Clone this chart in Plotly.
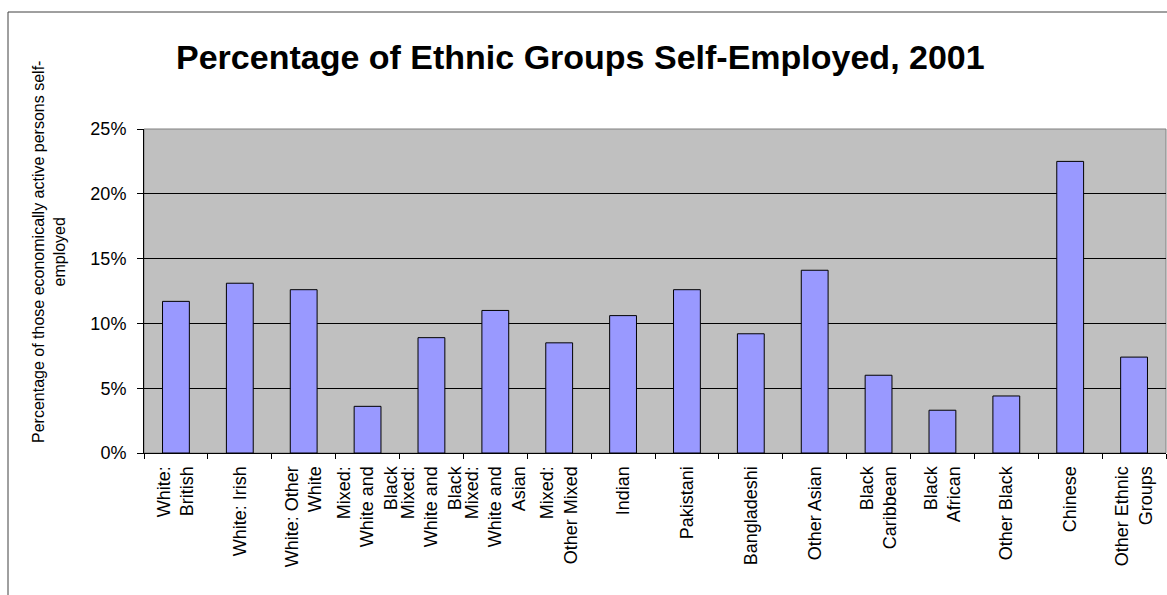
import plotly.graph_objects as go

categories = [
    "White: British", "White: Irish", "White: Other White",
    "Mixed: White and Black Caribbean", "Mixed: White and Black African",
    "Mixed: White and Asian", "Mixed: Other Mixed", "Indian", "Pakistani",
    "Bangladeshi", "Other Asian", "Black Caribbean", "Black African",
    "Other Black", "Chinese", "Other Ethnic Groups",
]
tick_labels = [
    "White:<br>British", "White: Irish", "White: Other<br>White",
    "Mixed:<br>White and<br>Black", "Mixed:<br>White and<br>Black",
    "Mixed:<br>White and<br>Asian", "Mixed:<br>Other Mixed", "Indian", "Pakistani",
    "Bangladeshi", "Other Asian", "Black<br>Caribbean", "Black<br>African",
    "Other Black", "Chinese", "Other Ethnic<br>Groups",
]
self_employed_pct = [11.7, 13.1, 12.6, 3.6, 8.9, 11.0, 8.5, 10.6, 12.6,
                     9.2, 14.1, 6.0, 3.3, 4.4, 22.5, 7.4]
y_ticks = [0, 5, 10, 15, 20, 25]
y_tick_labels = ["0%", "5%", "10%", "15%", "20%", "25%"]

FONT = "Liberation Sans, Arial, sans-serif"

fig = go.Figure(go.Bar(
    x=categories, y=self_employed_pct, width=0.42,
    marker=dict(color="#9999FF", line=dict(color="black", width=1)),
))

L, R, T, B = 144, 1, 129, 142
W, H = 1167, 595
pw = W - L - R
ph = H - T - B

fig.update_layout(
    width=W, height=H,
    margin=dict(l=L, r=R, t=T, b=B),
    paper_bgcolor="white", plot_bgcolor="#C0C0C0",
    font=dict(family=FONT, color="black", size=18),
    showlegend=False,
)
fig.update_xaxes(
    tickvals=categories, ticktext=tick_labels, tickangle=-90,
    ticks="outside", tickson="boundaries", ticklen=5, tickcolor="black",
    ticklabelstandoff=5,
    showline=True, linecolor="black", linewidth=1, showgrid=False,
    tickfont=dict(size=18, family=FONT, color="black"),
)
fig.update_yaxes(
    range=[0, 25], tickvals=y_ticks, ticktext=y_tick_labels,
    ticks="outside", ticklen=6, tickcolor="black",
    ticklabelstandoff=7,
    showline=True, linecolor="black", linewidth=1,
    showgrid=True, gridcolor="black", gridwidth=1, zeroline=False,
    tickfont=dict(size=18, family=FONT, color="black"),
)

# plot area border (top/right) in gray
fig.add_shape(type="rect", xref="paper", yref="paper", x0=0, x1=1, y0=0, y1=1,
              line=dict(color="#808080", width=1), layer="below")
# chart frame
fx0 = (8 - L) / pw
fy1 = (H - B - 12) / ph
fig.add_shape(type="rect", xref="paper", yref="paper", x0=fx0, x1=1.2, y0=-1.0, y1=fy1,
              line=dict(color="#404040", width=1))

fig.add_annotation(
    text="<b>Percentage of Ethnic Groups Self-Employed, 2001</b>",
    xref="paper", yref="paper", x=(580 - L) / pw, y=(H - B - 57) / ph,
    showarrow=False, xanchor="center", yanchor="middle",
    font=dict(size=34, family=FONT, color="black"),
)
fig.add_annotation(
    text="Percentage of those economically active persons self-<br>employed",
    xref="paper", yref="paper", x=(49 - L) / pw, y=(H - B - 252) / ph,
    showarrow=False, xanchor="center", yanchor="middle", textangle=-90,
    font=dict(size=16, family=FONT, color="black"),
)

fig.write_html(
    "out.html",
    config={"displayModeBar": False},
    post_script="document.body.style.margin='0';document.body.style.overflow='hidden';",
)
